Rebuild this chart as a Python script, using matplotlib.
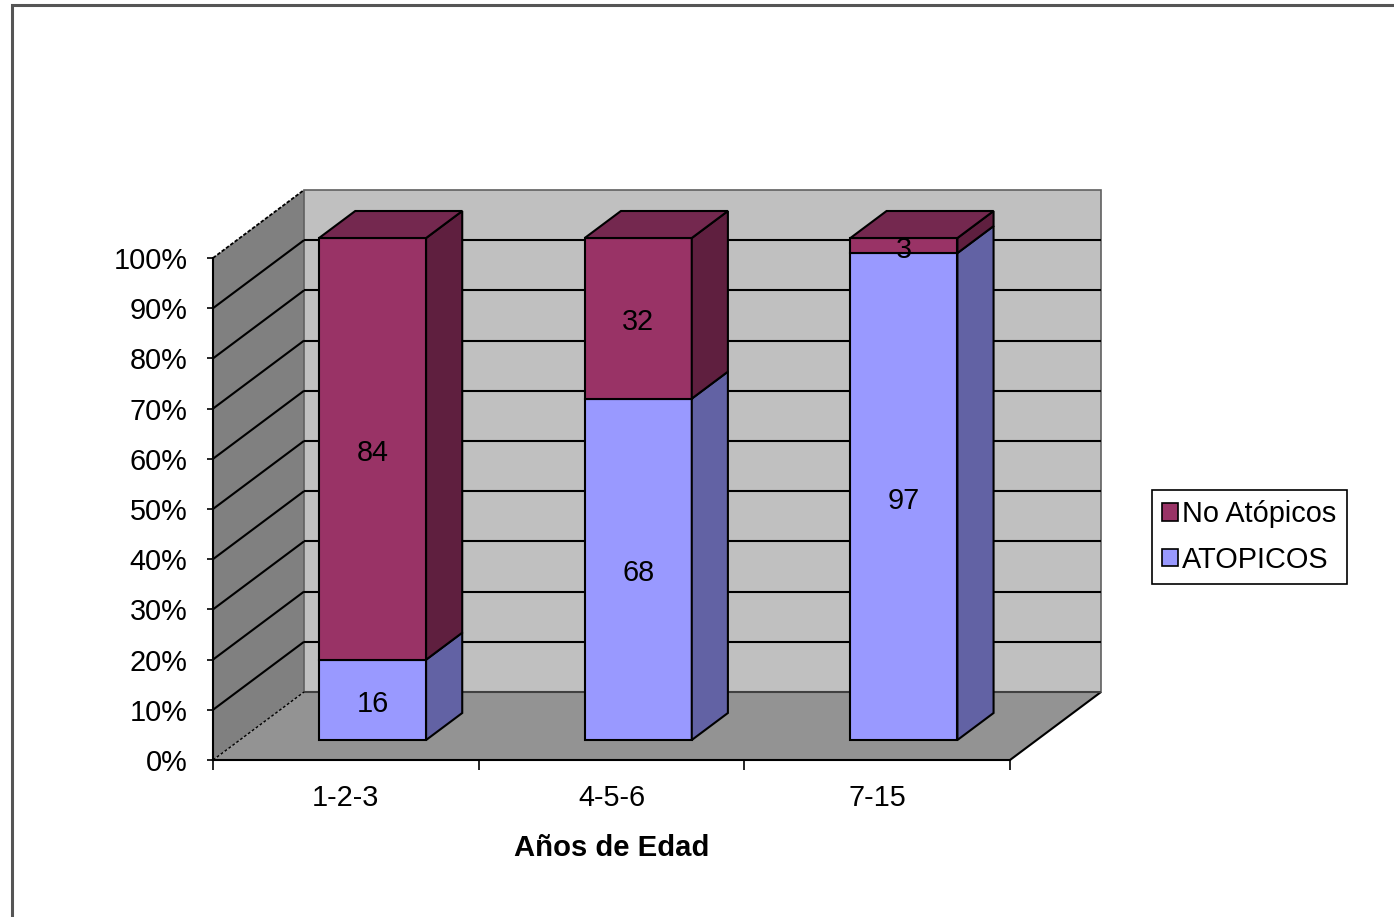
import matplotlib
matplotlib.use("Agg")
import matplotlib.pyplot as plt
from matplotlib.patches import Polygon, Patch, Rectangle
from matplotlib.transforms import offset_copy

plt.rcParams['font.family'] = ['Liberation Sans', 'DejaVu Sans']

categories = ['1-2-3', '4-5-6', '7-15']
atopicos = [16, 68, 97]
no_atopicos = [84, 32, 3]
series_names = ['ATOPICOS', 'No Atópicos']
y_ticks = [0, 10, 20, 30, 40, 50, 60, 70, 80, 90, 100]
y_tick_labels = [f'{t}%' for t in y_ticks]

# colours: (front, side, top)
series_colors = {
    'ATOPICOS': ('#9999FF', '#6262A4', '#7575C6'),
    'No Atópicos': ('#993366', '#5F1F3F', '#74284F'),
}
LEFT_WALL = '#808080'
BACK_WALL = '#C0C0C0'
FLOOR = '#939393'
FS = 20.8

W_PX, H_PX = 1394, 917
fig = plt.figure(figsize=(W_PX / 100, H_PX / 100), dpi=100)

# front plane of the plot box in pixels
x0_px, x1_px, y0_px, y1_px = 213, 1010, 760, 258
ax = fig.add_axes([x0_px / W_PX, (H_PX - y0_px) / H_PX,
                   (x1_px - x0_px) / W_PX, (y0_px - y1_px) / H_PX])
ax.set_xlim(0, len(categories))
ax.set_ylim(0, 100)
ax.patch.set_visible(False)

# oblique depth offset (full depth) in data units
DX = 91 / (x1_px - x0_px) * len(categories)
DY = 68 / (y0_px - y1_px) * 100
F0, F1 = 20 / 68, 47 / 68      # bar front / back depth fractions
BAR_W = 107 / (x1_px - x0_px) * len(categories)


def proj(c, v, d):
    return (c + d * DX, v + d * DY)


def poly(pts, fc, ec='black', lw=1.5, z=1):
    ax.add_patch(Polygon(pts, closed=True, facecolor=fc, edgecolor=ec,
                         linewidth=lw, clip_on=False, zorder=z,
                         joinstyle='miter'))


def line(p, q, color='black', lw=1.5, ls='-', z=2):
    ax.plot([p[0], q[0]], [p[1], q[1]], color=color, lw=lw, ls=ls,
            clip_on=False, zorder=z, solid_capstyle='butt')


n = len(categories)
# walls and floor
poly([proj(0, 0, 0), proj(0, 100, 0), proj(0, 100, 1), proj(0, 0, 1)],
     LEFT_WALL, ec='none', z=0.5)
poly([proj(0, 0, 1), proj(n, 0, 1), proj(n, 100, 1), proj(0, 100, 1)],
     BACK_WALL, ec='#606060', lw=1.2, z=0.5)
poly([proj(0, 0, 0), proj(n, 0, 0), proj(n, 0, 1), proj(0, 0, 1)],
     FLOOR, ec='none', z=0.6)
line(proj(n, 0, 0), proj(n, 0, 1), lw=1.5, z=0.7)
line(proj(0, 0, 1), proj(n, 0, 1), color='#404040', lw=1.5, z=0.7)

# gridlines on left and back walls
for v in y_ticks[1:-1]:
    line(proj(0, v, 0), proj(0, v, 1), lw=1.5, z=0.8)
    line(proj(0, v, 1), proj(n, v, 1), lw=1.5, z=0.8)
line(proj(0, 100, 0), proj(0, 100, 1), lw=1.3, ls=(0, (2, 1)), z=0.8)
line(proj(0, 0, 0), proj(0, 0, 1), lw=1.0, ls=(0, (2, 1.5)), z=0.8)

# value labels sit a few pixels below the segment centre
label_tr = offset_copy(ax.transData, fig=fig, x=0, y=-4, units='dots')

# stacked 3D bars
for i in range(n):
    xc = i + 0.5
    xa, xb = xc - BAR_W / 2, xc + BAR_W / 2
    bottom = 0
    stack = [('ATOPICOS', atopicos[i]), ('No Atópicos', no_atopicos[i])]
    for k, (name, val) in enumerate(stack):
        front, side, top = series_colors[name]
        v0, v1 = bottom, bottom + val
        poly([proj(xa, v0, F0), proj(xb, v0, F0), proj(xb, v1, F0),
              proj(xa, v1, F0)], front, z=3)
        poly([proj(xb, v0, F0), proj(xb, v0, F1), proj(xb, v1, F1),
              proj(xb, v1, F0)], side, z=3)
        if k == len(stack) - 1:
            poly([proj(xa, v1, F0), proj(xb, v1, F0), proj(xb, v1, F1),
                  proj(xa, v1, F1)], top, z=3)
        lx, ly = proj(xc, (v0 + v1) / 2, F0)
        ax.text(lx, ly, f'{val}', ha='center', va='center', fontsize=FS,
                color='black', zorder=5, transform=label_tr)
        bottom = v1

# axes: spines, ticks, labels
for s in ['top', 'right']:
    ax.spines[s].set_visible(False)
for s in ['left', 'bottom']:
    ax.spines[s].set_linewidth(1.5)
    ax.spines[s].set_zorder(4)
ax.set_yticks(y_ticks)
ax.set_yticklabels(y_tick_labels, fontsize=FS)
ax.tick_params(axis='y', direction='out', length=4.5, width=1.2, pad=14)
ax.set_xticks(range(n + 1))
ax.set_xticklabels([''] * (n + 1))
ax.tick_params(axis='x', which='major', direction='out', length=7.5, width=1.2)
ax.set_xticks([i + 0.5 for i in range(n)], minor=True)
ax.set_xticklabels(categories, minor=True, fontsize=FS)
ax.tick_params(axis='x', which='minor', length=0, pad=17)
ax.set_xlabel('Años de Edad', fontsize=FS + 0.3, fontweight='bold')
ax.xaxis.set_label_coords(0.5, -0.176)
ax.xaxis.label.set_va('center')

# legend
handles = [Patch(facecolor=series_colors['No Atópicos'][0], edgecolor='black',
                 linewidth=1.2, label='No Atópicos'),
           Patch(facecolor=series_colors['ATOPICOS'][0], edgecolor='black',
                 linewidth=1.2, label='ATOPICOS')]
leg = fig.legend(handles=handles, loc='center left',
                 bbox_to_anchor=(1152 / W_PX, 1 - 537 / H_PX),
                 fontsize=FS, frameon=True, fancybox=False, framealpha=1,
                 edgecolor='black', handlelength=0.55, handleheight=0.55,
                 handletextpad=0.15, borderpad=0.35, labelspacing=0.6,
                 borderaxespad=0)
leg.get_frame().set_linewidth(1.2)

# outer chart frame
fig.patches.append(Rectangle((12 / W_PX, -0.05), 1.2, 1 - 5 / H_PX + 0.05,
                             transform=fig.transFigure, fill=False,
                             edgecolor='#555555', linewidth=2.2))

fig.savefig('out.png', dpi=100)
